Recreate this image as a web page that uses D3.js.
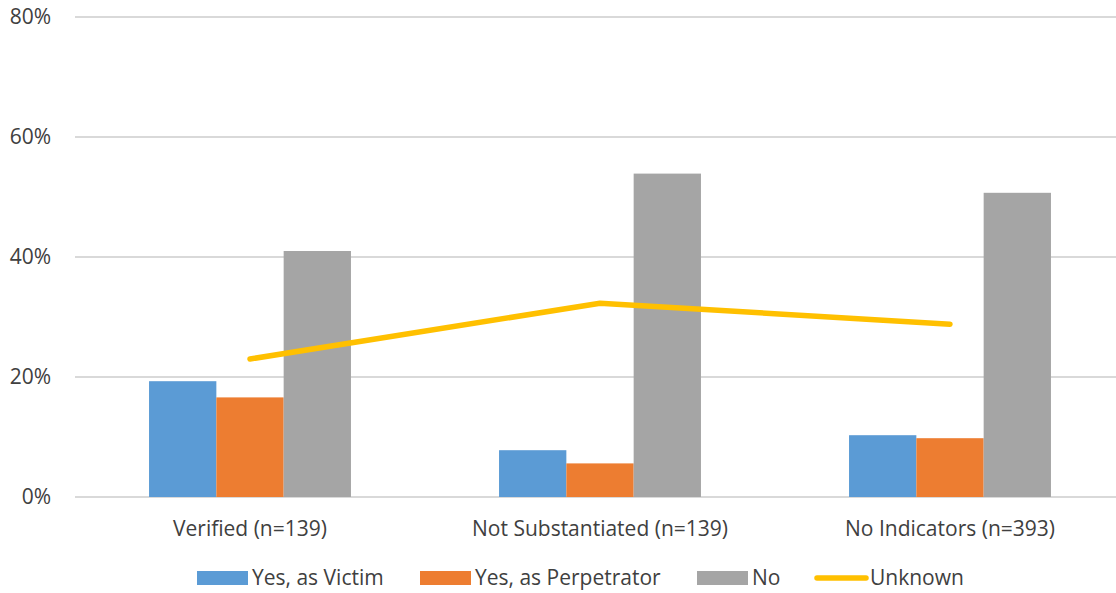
<!DOCTYPE html>
<html>
<head>
<meta charset="utf-8">
<script src="https://cdn.jsdelivr.net/npm/d3@7"></script>
<style>
  html, body { margin: 0; padding: 0; background: #fff; }
  svg text { font-family: "Open Sans", "Noto Sans", sans-serif; fill: #404040; }
</style>
</head>
<body>
<svg id="chart" width="1116" height="593"></svg>
<script>
const categories = ["Verified (n=139)", "Not Substantiated (n=139)", "No Indicators (n=393)"];
const barSeries = ["Yes, as Victim", "Yes, as Perpetrator", "No"];
const victimValues = [19.3, 7.8, 10.3];
const perpetratorValues = [16.6, 5.6, 9.8];
const noValues = [41.0, 53.9, 50.7];
const unknownValues = [23.0, 32.3, 28.8];
const yTicks = [0, 20, 40, 60, 80];
const lineSeries = "Unknown";

const colors = {
  "Yes, as Victim": "#5B9BD5",
  "Yes, as Perpetrator": "#ED7D31",
  "No": "#A5A5A5",
  "Unknown": "#FFC000"
};

const barData = categories.map((c, i) => ({
  cat: c,
  vals: [
    { s: barSeries[0], v: victimValues[i] },
    { s: barSeries[1], v: perpetratorValues[i] },
    { s: barSeries[2], v: noValues[i] }
  ]
}));

const svg = d3.select("#chart");
const mLeft = 75, mRight = 1125, mTop = 17, mBottom = 497;

const x0 = d3.scaleBand().domain(categories).range([mLeft, mRight]).padding(0);
const x1 = d3.scaleBand().domain(barSeries).range([0, x0.bandwidth()]).paddingInner(0).paddingOuter(1.1);
const y = d3.scaleLinear().domain([0, 80]).range([mBottom, mTop]);

// gridlines
svg.append("g")
  .selectAll("line")
  .data(yTicks)
  .join("line")
  .attr("x1", mLeft).attr("x2", 1116)
  .attr("y1", d => y(d)).attr("y2", d => y(d))
  .attr("stroke", "#D9D9D9").attr("stroke-width", 2);

// y tick labels
svg.append("g")
  .selectAll("text")
  .data(yTicks)
  .join("text")
  .attr("x", 51).attr("y", d => y(d))
  .attr("dy", "0.35em")
  .attr("text-anchor", "end")
  .attr("font-size", 21)
  .text(d => d + "%");

// bars
const groups = svg.append("g")
  .selectAll("g")
  .data(barData)
  .join("g")
  .attr("transform", d => `translate(${x0(d.cat)},0)`);

groups.selectAll("rect")
  .data(d => d.vals)
  .join("rect")
  .attr("x", d => x1(d.s))
  .attr("width", x1.bandwidth())
  .attr("y", d => y(d.v))
  .attr("height", d => y(0) - y(d.v))
  .attr("fill", d => colors[d.s]);

// line
const line = d3.line()
  .x((d, i) => x0(categories[i]) + x0.bandwidth() / 2)
  .y(d => y(d));

svg.append("path")
  .datum(unknownValues)
  .attr("d", line)
  .attr("fill", "none")
  .attr("stroke", colors[lineSeries])
  .attr("stroke-width", 5.5)
  .attr("stroke-linecap", "round")
  .attr("stroke-linejoin", "round");

// category labels
svg.append("g")
  .selectAll("text")
  .data(categories)
  .join("text")
  .attr("x", d => x0(d) + x0.bandwidth() / 2)
  .attr("y", 529)
  .attr("dy", "0.35em")
  .attr("text-anchor", "middle")
  .attr("font-size", 21)
  .text(d => d);

// legend
const legendItems = [
  { name: barSeries[0], type: "rect", x: 197 },
  { name: barSeries[1], type: "rect", x: 420 },
  { name: barSeries[2], type: "rect", x: 697 },
  { name: lineSeries, type: "line", x: 815 }
];
const lg = svg.append("g")
  .selectAll("g")
  .data(legendItems)
  .join("g")
  .attr("transform", d => `translate(${d.x},578)`);

lg.filter(d => d.type === "rect").append("rect")
  .attr("x", 0).attr("y", -7).attr("width", 51).attr("height", 14)
  .attr("fill", d => colors[d.name]);

lg.filter(d => d.type === "line").append("line")
  .attr("x1", 2).attr("x2", 51).attr("y1", 0).attr("y2", 0)
  .attr("stroke", d => colors[d.name])
  .attr("stroke-width", 5.5)
  .attr("stroke-linecap", "round");

lg.append("text")
  .attr("x", 55).attr("y", 0).attr("dy", "0.35em")
  .attr("font-size", 21)
  .text(d => d.name);
</script>
</body>
</html>
